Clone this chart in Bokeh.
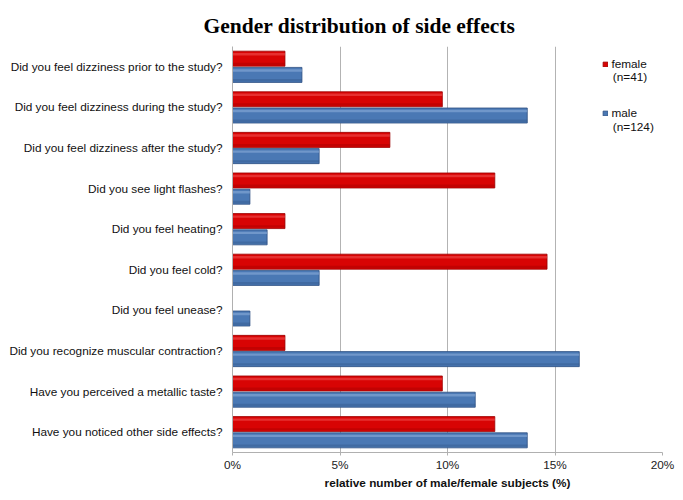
from bokeh.plotting import figure
from bokeh.models import (FactorRange, Range1d, Label, PrintfTickFormatter, FixedTicker,
                          ColumnDataSource, Legend, LegendItem)
from bokeh.transform import dodge
from bokeh.embed import file_html
from bokeh.resources import INLINE

# ---------------- data ----------------
categories = [
    "Did you feel dizziness prior to the study?",
    "Did you feel dizziness during the study?",
    "Did you feel dizziness after the study?",
    "Did you see light flashes?",
    "Did you feel heating?",
    "Did you feel cold?",
    "Did you feel unease?",
    "Did you recognize muscular contraction?",
    "Have you perceived a metallic taste?",
    "Have you noticed other side effects?",
]
female = [2.44, 9.76, 7.32, 12.20, 2.44, 14.63, 0.0, 2.44, 9.76, 12.20]
male = [3.23, 13.71, 4.03, 0.81, 1.61, 4.03, 0.81, 16.13, 11.29, 13.71]
x_ticks = [0, 5, 10, 15, 20]
series_names = ["female", "male"]
series_n = ["(n=41)", "(n=124)"]
title_text = "Gender distribution of side effects"
x_label = "relative number of male/female subjects (%)"

# ---------------- styles ----------------
RED, RED_HI, RED_DK = "#d80404", "#f25555", "#9a0000"
BLUE, BLUE_HI, BLUE_DK = "#4a78b4", "#8fb0dc", "#2d4f82"
FONT = "Liberation Sans"

src = ColumnDataSource(dict(cat=categories, female=female, male=male))

p = figure(width=683, height=500,
           y_range=FactorRange(factors=categories[::-1]),
           x_range=Range1d(0, 20),
           output_backend="svg", toolbar_location=None,
           min_border_left=232, min_border_top=46,
           min_border_right=21, min_border_bottom=48)
p.outline_line_color = None
p.background_fill_color = "white"

p.title.text = title_text
p.title.text_font = "Liberation Serif"
p.title.text_font_style = "bold"
p.title.text_font_size = "21.5px"
p.title.text_color = "black"
p.title.align = "left"
p.title.offset = -29
p.title.standoff = 18

BAR_H = 0.37
OFF = 0.2
# female (upper), male (lower)
r_f = p.hbar(y=dodge("cat", OFF, range=p.y_range), right="female", left=0, height=BAR_H,
             source=src, fill_color=RED, line_color=RED_DK, line_width=0.8)
p.hbar(y=dodge("cat", OFF + 0.11, range=p.y_range), right="female", left=0, height=0.06,
       source=src, fill_color=RED_HI, fill_alpha=0.55, line_color=None)
p.hbar(y=dodge("cat", OFF - 0.13, range=p.y_range), right="female", left=0, height=0.06,
       source=src, fill_color=RED_DK, fill_alpha=0.35, line_color=None)
r_m = p.hbar(y=dodge("cat", -OFF, range=p.y_range), right="male", left=0, height=BAR_H,
             source=src, fill_color=BLUE, line_color=BLUE_DK, line_width=0.8)
p.hbar(y=dodge("cat", -OFF + 0.11, range=p.y_range), right="male", left=0, height=0.06,
       source=src, fill_color=BLUE_HI, fill_alpha=0.55, line_color=None)
p.hbar(y=dodge("cat", -OFF - 0.13, range=p.y_range), right="male", left=0, height=0.06,
       source=src, fill_color=BLUE_DK, fill_alpha=0.35, line_color=None)

# axes
p.xaxis.ticker = FixedTicker(ticks=x_ticks)
p.xaxis.formatter = PrintfTickFormatter(format="%d%%")
p.xaxis.axis_label = x_label
p.xaxis.axis_label_text_font = FONT
p.xaxis.axis_label_text_font_style = "bold"
p.xaxis.axis_label_text_font_size = "11.8px"
p.xaxis.axis_label_text_color = "#111111"
p.xaxis.axis_label_standoff = 1
p.xaxis.major_label_text_font = FONT
p.xaxis.major_label_text_font_size = "11.8px"
p.xaxis.major_label_text_color = "#222222"
p.xaxis.major_label_standoff = 2
p.xaxis.major_tick_out = 3
p.xaxis.major_tick_in = 0
p.xaxis.minor_tick_line_color = None
p.xaxis.axis_line_color = "#b0b0b0"
p.xaxis.major_tick_line_color = "#b0b0b0"

p.yaxis.major_label_text_font = FONT
p.yaxis.major_label_text_font_size = "11.8px"
p.yaxis.major_label_text_color = "#111111"
p.yaxis.major_label_standoff = 10
p.yaxis.major_tick_out = 0
p.yaxis.major_tick_in = 0
p.yaxis.major_tick_line_color = None
p.yaxis.axis_line_color = "#b0b0b0"

p.ygrid.grid_line_color = None
p.xgrid.grid_line_color = "#b3b3b3"
p.xgrid.ticker = FixedTicker(ticks=x_ticks)

# legend
legend = Legend(items=[LegendItem(label=series_names[0], renderers=[r_f]),
                       LegendItem(label=series_names[1], renderers=[r_m])],
                location=(370.4, 332.2), orientation="vertical",
                glyph_width=6, glyph_height=6, label_height=14, label_standoff=3,
                spacing=35, padding=0, margin=0, border_line_color=None,
                background_fill_alpha=0, label_text_font=FONT,
                label_text_font_size="11.8px", label_text_color="#111111")
p.add_layout(legend, "center")
for yv, t in zip([9.254, 8.012], series_n):
    p.add_layout(Label(x=17.69, y=yv, text=t, text_align="left", text_baseline="middle",
                       text_font=FONT, text_font_size="11.8px", text_color="#111111"))

open("out.html", "w").write(file_html(p, INLINE))
